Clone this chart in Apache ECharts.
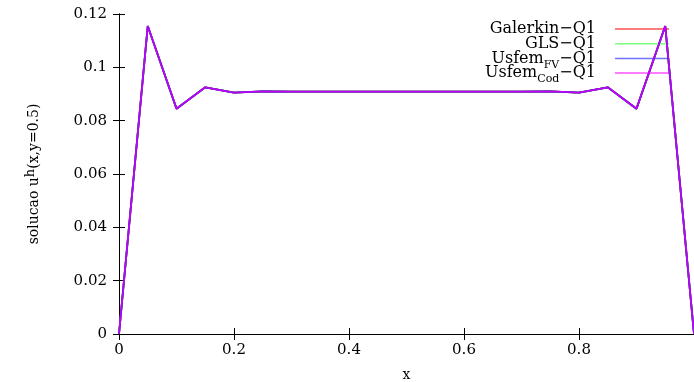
<!DOCTYPE html>
<html>
<head>
<meta charset="utf-8">
<script src="https://cdn.jsdelivr.net/npm/echarts@6/dist/echarts.min.js"></script>
<style>html,body{margin:0;padding:0;background:#fff;}#c{width:694px;height:382px;}</style>
</head>
<body>
<div id="c"></div>
<script>
const xValues = [0, 0.05, 0.1, 0.15, 0.2, 0.25, 0.3, 0.35, 0.4, 0.45, 0.5, 0.55, 0.6, 0.65, 0.7, 0.75, 0.8, 0.85, 0.9, 0.95, 1];
const galerkinQ1 = [0, 0.1155, 0.0845, 0.0925, 0.0905, 0.0910, 0.0909, 0.0909, 0.0909, 0.0909, 0.0909, 0.0909, 0.0909, 0.0909, 0.0909, 0.0910, 0.0905, 0.0925, 0.0845, 0.1155, 0];
const glsQ1 = [0, 0.1155, 0.0845, 0.0925, 0.0905, 0.0910, 0.0909, 0.0909, 0.0909, 0.0909, 0.0909, 0.0909, 0.0909, 0.0909, 0.0909, 0.0910, 0.0905, 0.0925, 0.0845, 0.1155, 0];
const usfemFvQ1 = [0, 0.1155, 0.0845, 0.0925, 0.0905, 0.0910, 0.0909, 0.0909, 0.0909, 0.0909, 0.0909, 0.0909, 0.0909, 0.0909, 0.0909, 0.0910, 0.0905, 0.0925, 0.0845, 0.1155, 0];
const usfemCodQ1 = [0, 0.1155, 0.0845, 0.0925, 0.0905, 0.0910, 0.0909, 0.0909, 0.0909, 0.0909, 0.0909, 0.0909, 0.0909, 0.0909, 0.0909, 0.0910, 0.0905, 0.0925, 0.0845, 0.1155, 0];
const seriesNames = ['Galerkin-Q1', 'GLS-Q1', 'UsfemFV-Q1', 'UsfemCod-Q1'];
const legendLabels = ['Galerkin−Q1', 'GLS−Q1', 'Usfem{sub|FV}−Q1', 'Usfem{sub|Cod}−Q1'];
const seriesColors = ['#ff0000', '#00ff00', '#0000ff', '#ff00ff'];
const seriesOpacity = [1, 1, 1, 0.75];
const legendColors = ['#ff5050', '#80ff80', '#7070ff', '#ff50ff'];
const allData = [galerkinQ1, glsQ1, usfemFvQ1, usfemCodQ1];

const FONT = 'DejaVu Serif';
const chart = echarts.init(document.getElementById('c'), null, {renderer: 'canvas'});
const pair = arr => xValues.map((x, i) => [x, arr[i]]);

const axisCommon = {
  axisLine: {show: true, lineStyle: {color: '#000', width: 1}},
  axisTick: {show: true, inside: true, length: 6, lineStyle: {color: '#000', width: 1}},
  splitLine: {show: false}
};

chart.setOption({
  animation: false,
  backgroundColor: '#fff',
  grid: {left: 119, right: 0, top: 14, bottom: 48, containLabel: false, outerBoundsMode: 'none'},
  xAxis: [
    Object.assign({
      type: 'value', min: 0, max: 1, interval: 0.2, position: 'bottom',
      name: 'x', nameLocation: 'middle', nameGap: 34,
      nameTextStyle: {fontFamily: FONT, fontSize: 14, color: '#000'},
      axisLabel: {fontFamily: FONT, fontSize: 15, color: '#000', margin: 9, showMaxLabel: false}
    }, axisCommon),
    Object.assign({
      type: 'value', min: 0, max: 1, interval: 0.2, position: 'top',
      axisLabel: {show: false}
    }, axisCommon)
  ],
  yAxis: [
    Object.assign({
      type: 'value', min: 0, max: 0.12, interval: 0.02, position: 'left',
      name: 'solucao u{sup|h}(x,y=0.5)', nameLocation: 'middle', nameGap: 75, nameRotate: 90,
      nameTextStyle: {fontFamily: FONT, fontSize: 14, color: '#000', lineHeight: 20,
        rich: {sup: {fontFamily: FONT, fontSize: 13, color: '#000', verticalAlign: 'top', lineHeight: 10}}},
      axisLabel: {fontFamily: FONT, fontSize: 15, color: '#000', margin: 12}
    }, axisCommon),
    Object.assign({
      type: 'value', min: 0, max: 0.12, interval: 0.02, position: 'right',
      axisLabel: {show: false}
    }, axisCommon)
  ],
  legend: {
    orient: 'vertical', right: 20, top: 12, align: 'right',
    itemWidth: 54, itemHeight: 1.5, icon: 'rect', itemGap: -9.3,
    data: seriesNames.map((n, i) => ({name: n, itemStyle: {color: legendColors[i]}})),
    formatter: name => legendLabels[seriesNames.indexOf(name)],
    textStyle: {fontFamily: FONT, fontSize: 16, color: '#000', lineHeight: 24, padding: [0, 14, 0, 0],
      rich: {sub: {fontFamily: FONT, fontSize: 11, color: '#000', verticalAlign: 'bottom', lineHeight: 8}}}
  },
  series: seriesNames.map((n, i) => ({
    name: n, type: 'line', data: pair(allData[i]),
    showSymbol: false, symbol: 'none',
    lineStyle: {color: seriesColors[i], width: 1.8, opacity: seriesOpacity[i]},
    itemStyle: {color: seriesColors[i]},
    z: 2 + i
  }))
});
</script>
</body>
</html>
